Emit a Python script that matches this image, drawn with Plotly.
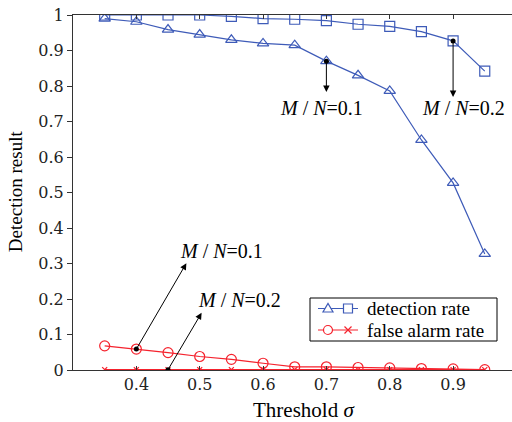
import plotly.graph_objects as go

thresholds = [0.35, 0.40, 0.45, 0.50, 0.55, 0.60, 0.65, 0.70, 0.75, 0.80, 0.85, 0.90, 0.95]
det_mn01 = [0.990, 0.981, 0.959, 0.945, 0.930, 0.920, 0.915, 0.870, 0.830, 0.786, 0.648, 0.527, 0.327]
det_mn02 = [1.000, 1.000, 1.000, 1.000, 0.996, 0.990, 0.988, 0.984, 0.974, 0.968, 0.953, 0.927, 0.842]
fa_mn01 = [0.068, 0.059, 0.049, 0.038, 0.030, 0.019, 0.009, 0.009, 0.007, 0.006, 0.004, 0.003, 0.001]
fa_mn02 = [0.001, 0.001, 0.001, 0.001, 0.001, 0.001, 0.001, 0.001, 0.001, 0.001, 0.001, 0.001, 0.001]

x_ticks = [0.4, 0.5, 0.6, 0.7, 0.8, 0.9]
x_ticktext = ["0.4", "0.5", "0.6", "0.7", "0.8", "0.9"]
y_ticks = [0, 0.1, 0.2, 0.3, 0.4, 0.5, 0.6, 0.7, 0.8, 0.9, 1.0]
y_ticktext = ["0", "0.1", "0.2", "0.3", "0.4", "0.5", "0.6", "0.7", "0.8", "0.9", "1"]
legend_labels = ["detection rate", "false alarm rate"]

BLUE = "#3E5BB8"
RED = "#F5222D"
SERIF = "Liberation Serif, Times New Roman, serif"
TICKFONT = "DejaVu Serif, serif"

fig = go.Figure()
fig.add_trace(go.Scatter(x=thresholds, y=det_mn01, mode="lines+markers", name="detection rate (M/N=0.1)",
                         line=dict(color=BLUE, width=1.2),
                         marker=dict(symbol="triangle-up-open", size=10, color=BLUE, line=dict(width=1.2))))
fig.add_trace(go.Scatter(x=thresholds, y=det_mn02, mode="lines+markers", name="detection rate (M/N=0.2)",
                         line=dict(color=BLUE, width=1.2),
                         marker=dict(symbol="square-open", size=10, color=BLUE, line=dict(width=1.2))))
fig.add_trace(go.Scatter(x=thresholds, y=fa_mn01, mode="lines+markers", name="false alarm rate (M/N=0.1)",
                         line=dict(color=RED, width=1.2),
                         marker=dict(symbol="circle-open", size=10, color=RED, line=dict(width=1.2))))
fig.add_trace(go.Scatter(x=thresholds, y=fa_mn02, mode="lines+markers", name="false alarm rate (M/N=0.2)",
                         line=dict(color=RED, width=1.2),
                         marker=dict(symbol="x-thin-open", size=5, color=RED, line=dict(width=1.2, color=RED))))

# highlighted points (black dots)
hl_x = [thresholds[1], thresholds[2], thresholds[7], thresholds[11]]
hl_y = [fa_mn01[1], fa_mn02[2], det_mn01[7], det_mn02[11]]
fig.add_trace(go.Scatter(x=hl_x, y=hl_y, mode="markers", showlegend=False,
                         marker=dict(symbol="circle", size=5, color="black")))

# arrows: (tail x, tail y) -> (tip x, tip y)
arrows = [
    (hl_x[0], hl_y[0], 0.479, 0.301),
    (hl_x[1], hl_y[1], 0.503, 0.161),
    (hl_x[2], hl_y[2], 0.70, 0.783),
    (hl_x[3], hl_y[3], 0.90, 0.769),
]
for tx, ty, hx, hy in arrows:
    fig.add_annotation(x=hx, y=hy, ax=tx, ay=ty, xref="x", yref="y", axref="x", ayref="y",
                       text="", showarrow=True, arrowhead=2, arrowsize=1.3, arrowwidth=1,
                       arrowcolor="black")

labels = [
    (0.535, 0.334, "<i>M</i> / <i>N</i>=0.1"),
    (0.563, 0.197, "<i>M</i> / <i>N</i>=0.2"),
    (0.693, 0.738, "<i>M</i> / <i>N</i>=0.1"),
    (0.916, 0.738, "<i>M</i> / <i>N</i>=0.2"),
]
for lx, ly, t in labels:
    fig.add_annotation(x=lx, y=ly, xref="x", yref="y", text=t, showarrow=False,
                       xanchor="center", yanchor="middle",
                       font=dict(family=SERIF, size=20, color="black"))

fig.add_annotation(x=0.526, y=-0.113, xref="paper", yref="paper", text="Threshold <i>σ</i>",
                   xanchor="center", yanchor="middle",
                   showarrow=False, font=dict(family=SERIF, size=21, color="black"))
fig.add_annotation(x=-0.132, y=0.504, xref="paper", yref="paper", text="Detection result",
                   xanchor="center", yanchor="middle",
                   textangle=-90, showarrow=False, font=dict(family=SERIF, size=19, color="black"))

# ---- custom legend (box, key glyphs, labels) in plot-fraction coordinates ----
L, T, B = 73, 15, 370
PW, PH = 439, 355
px = lambda p: (p - L) / PW
py = lambda p: (B - p) / PH

fig.add_shape(type="rect", xref="paper", yref="paper", x0=px(310), x1=px(497), y0=py(341), y1=py(298),
              line=dict(color="black", width=1), fillcolor="white", layer="below")
rows = [(py(308.5), BLUE, "tri", "sq"), (py(330), RED, "circ", "x")]
for (ry, col, m1, m2), lab in zip(rows, legend_labels):
    fig.add_shape(type="line", xref="paper", yref="paper", x0=px(318), x1=px(358), y0=ry, y1=ry,
                  line=dict(color=col, width=1.2))
    for m, cx in ((m1, px(328)), (m2, px(348))):
        common = dict(xref="paper", yref="paper", xsizemode="pixel", ysizemode="pixel",
                      xanchor=cx, yanchor=ry, line=dict(color=col, width=1.2), fillcolor="white")
        if m == "tri":
            fig.add_shape(type="path", path="M -5,-3.5 L 5,-3.5 L 0,5 Z", **common)
        elif m == "sq":
            fig.add_shape(type="rect", x0=-4.5, x1=4.5, y0=-4.5, y1=4.5, **common)
        elif m == "circ":
            fig.add_shape(type="circle", x0=-4.5, x1=4.5, y0=-4.5, y1=4.5, **common)
        else:
            common.pop("fillcolor")
            fig.add_shape(type="path", path="M -3.5,-3.5 L 3.5,3.5 M -3.5,3.5 L 3.5,-3.5", **common)
    fig.add_annotation(x=px(366), y=ry, xref="paper", yref="paper", text=lab, showarrow=False,
                       xanchor="left", yanchor="middle", borderpad=0,
                       font=dict(family=SERIF, size=19, color="black"))

fig.update_layout(
    width=512, height=422,
    margin=dict(l=73, r=0, t=15, b=52),
    paper_bgcolor="white", plot_bgcolor="white",
    showlegend=False,
)
fig.update_xaxes(range=[0.3, 0.993], tickvals=x_ticks, ticktext=x_ticktext,
                 showgrid=False, zeroline=False, showline=True, linecolor="#333", linewidth=1,
                 mirror="ticks", ticks="inside", ticklen=4, tickcolor="#333",
                 tickfont=dict(family=TICKFONT, size=16, color="#222"))
fig.update_yaxes(range=[0, 1], tickvals=y_ticks, ticktext=y_ticktext,
                 showgrid=False, zeroline=False, showline=True, linecolor="#333", linewidth=1,
                 mirror=False, ticks="outside", ticklen=5, tickcolor="#333",
                 tickfont=dict(family=TICKFONT, size=16, color="#222"))

fig.write_html("out.html")
